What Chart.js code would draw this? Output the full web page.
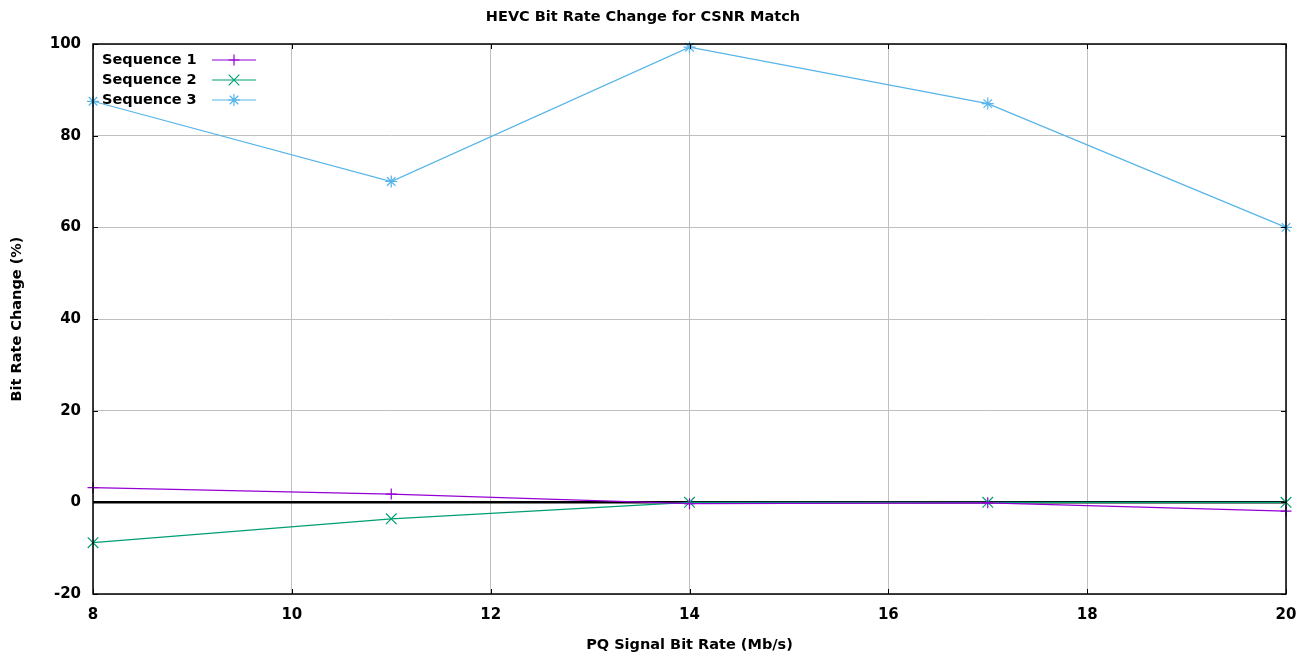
<!DOCTYPE html>
<html>
<head>
<meta charset="utf-8">
<title>HEVC Bit Rate Change for CSNR Match</title>
<script src="https://cdn.jsdelivr.net/npm/chart.js@4.4.1/dist/chart.umd.min.js"></script>
<style>
  html, body { margin: 0; padding: 0; background: #fff; }
  #wrap { width: 1307px; height: 657px; }
</style>
</head>
<body>
<div id="wrap"><canvas id="c" width="1307" height="657"></canvas></div>
<script>
// PQ signal bit rates (Mb/s)
const bitRates = [8, 11, 14, 17, 20];
// Bit rate change (%) per sequence
const seq1 = [3.2, 1.8, -0.3, -0.1, -1.9];
const seq2 = [-8.8, -3.6, 0, 0, 0];
const seq3 = [87.5, 70, 99.3, 87, 60];
const seriesNames = ['Sequence 1', 'Sequence 2', 'Sequence 3'];
const xTicks = [8, 10, 12, 14, 16, 18, 20];
const yTicks = [-20, 0, 20, 40, 60, 80, 100];

const FONT = 'DejaVu Sans';

function pts(values) {
  return bitRates.map((x, i) => ({ x: x, y: values[i] }));
}

// Frame, inward tick marks and key box in gnuplot style
const framePlugin = {
  id: 'frame',
  afterDatasetsDraw(chart) {
    const ctx = chart.ctx;
    const a = chart.chartArea;
    const xs = chart.scales.x, ys = chart.scales.y;
    ctx.save();
    ctx.strokeStyle = '#000';
    ctx.lineWidth = 1;
    ctx.beginPath();
    xTicks.forEach(v => {
      const px = Math.round(xs.getPixelForValue(v)) + 0.5;
      ctx.moveTo(px, a.bottom); ctx.lineTo(px, a.bottom - 5);
      ctx.moveTo(px, a.top); ctx.lineTo(px, a.top + 5);
    });
    yTicks.forEach(v => {
      const py = Math.round(ys.getPixelForValue(v)) + 0.5;
      ctx.moveTo(a.left, py); ctx.lineTo(a.left + 5, py);
      ctx.moveTo(a.right, py); ctx.lineTo(a.right - 5, py);
    });
    ctx.stroke();
    ctx.lineWidth = 1.5;
    ctx.strokeRect(a.left, a.top, a.right - a.left, a.bottom - a.top);

    // key
    ctx.font = 'bold 14.5px "' + FONT + '"';
    ctx.textBaseline = 'middle';
    ctx.textAlign = 'left';
    chart.data.datasets.forEach((ds, i) => {
      const y = a.top + 16 + i * 20;
      ctx.fillStyle = '#000';
      ctx.fillText(ds.label, a.left + 9, y);
      ctx.strokeStyle = ds.borderColor;
      ctx.lineWidth = 1.2;
      ctx.beginPath();
      ctx.moveTo(a.left + 119, y);
      ctx.lineTo(a.left + 163, y);
      ctx.stroke();
      Chart.helpers.drawPoint(ctx, {
        pointStyle: ds.pointStyle,
        radius: ds.pointRadius,
        borderWidth: 1.2,
        rotation: 0
      }, a.left + 141, y);
    });
    ctx.restore();
  }
};

const tickFont = { family: FONT, weight: 'bold', size: 15 };
const labelFont = { family: FONT, weight: 'bold', size: 14.5 };

new Chart(document.getElementById('c'), {
  type: 'line',
  data: {
    datasets: [
      { label: seriesNames[0], data: pts(seq1), borderColor: '#9400d3', pointStyle: 'cross', pointRadius: 5.5 },
      { label: seriesNames[1], data: pts(seq2), borderColor: '#009e73', pointStyle: 'crossRot', pointRadius: 7.5 },
      { label: seriesNames[2], data: pts(seq3), borderColor: '#56b4e9', pointStyle: 'star', pointRadius: 6 }
    ].map(d => Object.assign(d, {
      backgroundColor: d.borderColor,
      pointBorderColor: d.borderColor,
      borderWidth: 1.2,
      pointBorderWidth: 1.2,
      pointHoverRadius: d.pointRadius,
      tension: 0,
      fill: false,
      clip: false
    }))
  },
  options: {
    responsive: false,
    animation: false,
    events: [],
    layout: { padding: { left: 0, right: 21, top: 0, bottom: 0 } },
    plugins: {
      legend: { display: false },
      tooltip: { enabled: false },
      title: {
        display: true,
        text: 'HEVC Bit Rate Change for CSNR Match',
        color: '#000',
        font: labelFont,
        padding: { top: 9, bottom: 17.6 }
      }
    },
    scales: {
      x: {
        type: 'linear',
        min: 8, max: 20,
        afterBuildTicks(s) { s.ticks = xTicks.map(v => ({ value: v })); },
        afterFit(s) { s.height = 63; s.paddingLeft = 0; s.paddingRight = 0; },
        ticks: { color: '#000', font: tickFont, padding: 12, maxRotation: 0 },
        grid: {
          color: '#c0c0c0',
          lineWidth: 1,
          drawTicks: false
        },
        border: { display: false },
        title: {
          display: true,
          text: 'PQ Signal Bit Rate (Mb/s)',
          color: '#000',
          font: labelFont,
          padding: { top: 0, bottom: 3 }
        }
      },
      y: {
        type: 'linear',
        min: -20, max: 100,
        afterBuildTicks(s) { s.ticks = yTicks.map(v => ({ value: v })); },
        afterFit(s) { s.width = 93; s.paddingTop = 0; s.paddingBottom = 0; },
        ticks: { color: '#000', font: tickFont, padding: 12 },
        grid: {
          color: c => (c.tick && c.tick.value === 0) ? '#000' : '#c0c0c0',
          lineWidth: c => (c.tick && c.tick.value === 0) ? 2.5 : 1,
          drawTicks: false
        },
        border: { display: false },
        title: {
          display: true,
          text: 'Bit Rate Change (%)',
          color: '#000',
          font: labelFont,
          padding: { top: 9, bottom: 0 }
        }
      }
    }
  },
  plugins: [framePlugin]
});
</script>
</body>
</html>
